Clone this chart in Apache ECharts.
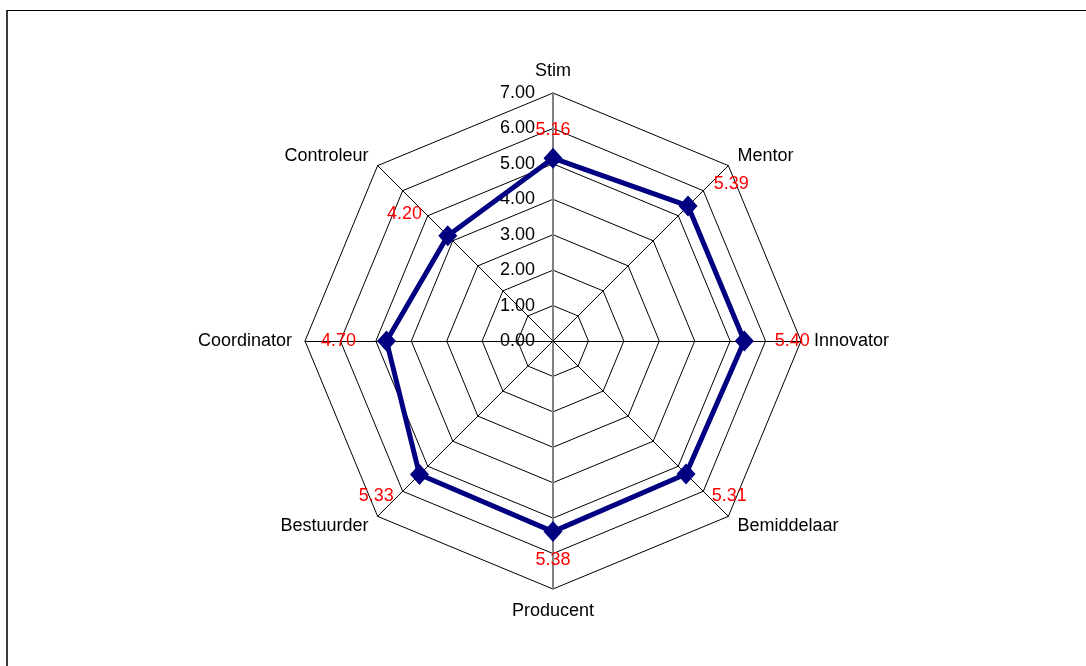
<!DOCTYPE html>
<html>
<head>
<meta charset="utf-8">
<script src="https://cdn.jsdelivr.net/npm/echarts@6/dist/echarts.min.js"></script>
<style>
  html, body { margin: 0; padding: 0; background: #fff; }
  #frame { position: absolute; left: 6px; top: 10px; width: 1090px; height: 666px;
           border-left: 2px solid #3a3a3a; border-top: 1px solid #000; }
  #chart { position: absolute; left: 0; top: 0; width: 1086px; height: 666px; }
</style>
</head>
<body>
<div id="frame"></div>
<div id="chart"></div>
<script>
// categories clockwise starting at the top
var roles = ['Stim', 'Mentor', 'Innovator', 'Bemiddelaar', 'Producent', 'Bestuurder', 'Coordinator', 'Controleur'];
var scores = [5.16, 5.39, 5.40, 5.31, 5.38, 5.33, 4.70, 4.20];
var scaleMax = 7;
var scaleSteps = 7;

var CX = 553, CY = 341;

// echarts draws indicators counter-clockwise, so walk the lists backwards after the first one
var order = [0, 7, 6, 5, 4, 3, 2, 1];
var indicators = order.map(function (i) {
  var ind = { name: roles[i], min: 0, max: scaleMax };
  if (roles[i] === 'Stim' || roles[i] === 'Producent') {
    ind.axisLine = { lineStyle: { color: '#808080', width: 2 } };
  }
  if (roles[i] === 'Stim') {
    ind.axisLabel = { show: true };
  }
  return ind;
});
var values = order.map(function (i) { return scores[i]; });

var chart = echarts.init(document.getElementById('chart'));

var option = {
  animation: false,
  textStyle: { fontFamily: 'Liberation Sans, Arial, sans-serif' },
  radar: {
    center: [CX, CY],
    radius: 248,
    startAngle: 90,
    shape: 'polygon',
    splitNumber: scaleSteps,
    indicator: indicators,
    axisName: { color: '#000', fontSize: 18, fontFamily: 'Liberation Sans, Arial, sans-serif' },
    nameGap: 13,
    axisLine: { lineStyle: { color: '#000', width: 1 } },
    splitLine: { lineStyle: { color: '#000', width: 1 } },
    splitArea: { show: false },
    axisTick: { show: false },
    axisLabel: {
      show: false,
      margin: 18,
      fontSize: 18,
      color: '#000',
      fontFamily: 'Liberation Sans, Arial, sans-serif',
      formatter: function (v) { return Number(v).toFixed(2); }
    }
  },
  series: [
    {
      type: 'radar',
      symbol: 'diamond',
      symbolSize: [19, 21],
      itemStyle: { color: '#000080' },
      lineStyle: { color: '#000080', width: 5 },
      label: {
        show: true,
        color: '#ff0000',
        fontSize: 18,
        fontFamily: 'Liberation Sans, Arial, sans-serif',
        formatter: function (p) { return Number(p.value).toFixed(2); }
      },
      labelLayout: function (p) {
        var sx = p.rect.x + p.rect.width / 2;
        var sy = p.rect.y + p.rect.height / 2;
        var dx = sx - CX, dy = sy - CY;
        var len = Math.sqrt(dx * dx + dy * dy) || 1;
        var ux = dx / len, uy = dy / len;
        var ox = (ux < 0 ? -1 : 1) * Math.pow(Math.abs(ux), 0.3) * 48;
        var oy = (uy < 0 ? -1 : 1) * Math.pow(Math.abs(uy), 0.7) * 28;
        return { x: sx + ox, y: sy + oy, align: 'center', verticalAlign: 'middle' };
      },
      data: [{ value: values, name: 'Score' }]
    }
  ]
};

chart.setOption(option);
</script>
</body>
</html>
